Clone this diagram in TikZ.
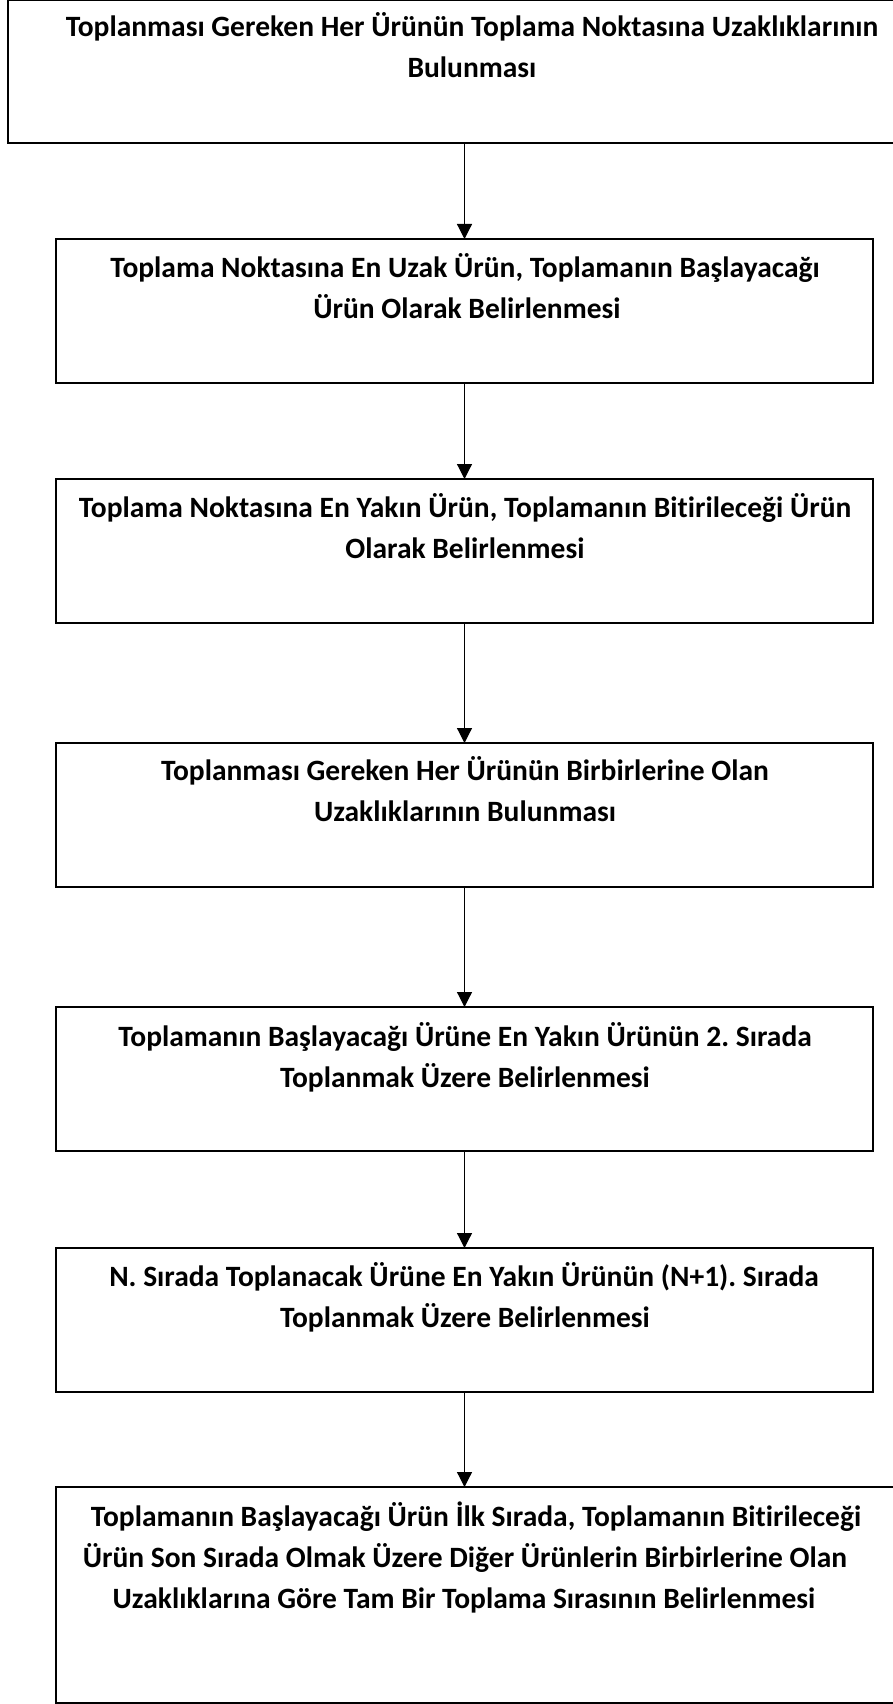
\documentclass[tikz,border=0pt]{standalone}
\usepackage{fontspec}
\setmainfont{Carlito}[Ligatures=NoCommon]
\frenchspacing
\usetikzlibrary{arrows.meta}
\begin{document}
\begin{tikzpicture}[x=1pt,y=-1pt,
  stepbox/.style={draw=black,line width=1.8pt,rectangle,inner sep=0pt,outer sep=0pt},
  flow/.style={draw=black,line width=1.2pt,-{Triangle[width=15pt,length=15pt]}},
  txtline/.style={anchor=base,inner sep=0pt,font=\fontsize{29.5}{41}\selectfont\bfseries}]
\useasboundingbox (0,0) rectangle (892,1704);

% process boxes
\node[stepbox,minimum width=927.4pt,minimum height=143pt] (b1) at (472,71.5) {};
\node[stepbox,minimum width=817pt,minimum height=144pt] (b2) at (464.5,311) {};
\node[stepbox,minimum width=817pt,minimum height=144pt] (b3) at (464.5,551) {};
\node[stepbox,minimum width=817pt,minimum height=144pt] (b4) at (464.5,815) {};
\node[stepbox,minimum width=817pt,minimum height=144pt] (b5) at (464.5,1079) {};
\node[stepbox,minimum width=817pt,minimum height=144pt] (b6) at (464.5,1320) {};
\node[stepbox,minimum width=844pt,minimum height=216pt] (b7) at (478,1595) {};

% box texts
\node[txtline] (t1a) at (472,37) {Toplanması Gereken Her Ürünün Toplama Noktasına Uzaklıklarının};
\node[txtline] (t1b) at (472,78) {Bulunması};
\node[txtline] (t2a) at (465,277) {Toplama Noktasına En Uzak Ürün, Toplamanın Başlayacağı};
\node[txtline] (t2b) at (467,318) {Ürün Olarak Belirlenmesi};
\node[txtline] (t3a) at (465,517) {Toplama Noktasına En Yakın Ürün, Toplamanın Bitirileceği Ürün};
\node[txtline] (t3b) at (465,558) {Olarak Belirlenmesi};
\node[txtline] (t4a) at (465,780) {Toplanması Gereken Her Ürünün Birbirlerine Olan};
\node[txtline] (t4b) at (465,821) {Uzaklıklarının Bulunması};
\node[txtline] (t5a) at (465,1046) {Toplamanın Başlayacağı Ürüne En Yakın Ürünün 2. Sırada};
\node[txtline] (t5b) at (465,1087) {Toplanmak Üzere Belirlenmesi};
\node[txtline] (t6a) at (464,1286) {N. Sırada Toplanacak Ürüne En Yakın Ürünün (N+1). Sırada};
\node[txtline] (t6b) at (465,1327) {Toplanmak Üzere Belirlenmesi};
\node[txtline] (t7a) at (476,1526) {Toplamanın Başlayacağı Ürün İlk Sırada, Toplamanın Bitirileceği};
\node[txtline] (t7b) at (465,1567) {Ürün Son Sırada Olmak Üzere Diğer Ürünlerin Birbirlerine Olan};
\node[txtline] (t7c) at (464,1608) {Uzaklıklarına Göre Tam Bir Toplama Sırasının Belirlenmesi};

% connectors
\draw[flow] (b1.south -| b2.north) -- (b2.north);
\draw[flow] (b2.south) -- (b3.north);
\draw[flow] (b3.south) -- (b4.north);
\draw[flow] (b4.south) -- (b5.north);
\draw[flow] (b5.south) -- (b6.north);
\draw[flow] (b6.south) -- (b6.south |- b7.north);
\end{tikzpicture}
\end{document}
